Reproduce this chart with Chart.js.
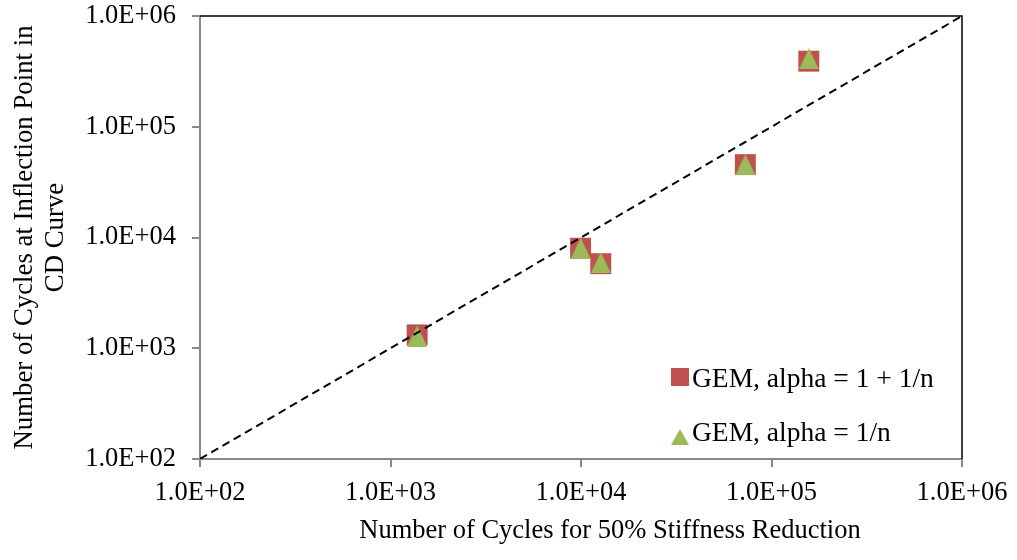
<!DOCTYPE html>
<html>
<head>
<meta charset="utf-8">
<title>Cycles at inflection point vs. cycles for 50% stiffness reduction</title>
<script src="https://cdn.jsdelivr.net/npm/chart.js@4/dist/chart.umd.min.js"></script>
<style>
  html, body { margin: 0; padding: 0; background: #ffffff; }
  #wrap { width: 1017px; height: 560px; }
</style>
</head>
<body>
<div id="wrap"><canvas id="chart" width="1017" height="560"></canvas></div>
<script>
// ---- data ----
const seriesNames = ['GEM, alpha = 1 + 1/n', 'GEM, alpha = 1/n'];
const stiffnessCycles = [1380, 9950, 12700, 72900, 157000];      // N for 50% stiffness reduction
const inflectionAlphaPlus = [1320, 8000, 5800, 45500, 391000];   // alpha = 1 + 1/n
const inflectionAlphaInv = [1290, 8000, 5940, 45500, 411000];    // alpha = 1/n
const equalityLine = [100, 1000000];                              // N = N reference
const tickValues = [1e2, 1e3, 1e4, 1e5, 1e6];
const xTitle = 'Number of Cycles for 50% Stiffness Reduction';
const yTitle = ['Number of Cycles at Inflection Point in', 'CD Curve'];

const FONT = "'Times New Roman', 'Liberation Serif', serif";
const RED = '#C0504D';
const GREEN = '#9BBB59';
const AXIS_GREY = '#898989';

// 1000 -> "1.0E+03"
function sciLabel(v) {
  const [m, e] = Number(v).toExponential(1).split('e');
  const exp = parseInt(e, 10);
  return m + 'E' + (exp < 0 ? '-' : '+') + String(Math.abs(exp)).padStart(2, '0');
}

function toPoints(xs, ys) {
  return xs.map((x, i) => ({ x: x, y: ys[i] }));
}

// Triangle marker whose bounding box is centred on the data point
function triangleMarker(w, h, color) {
  const c = document.createElement('canvas');
  c.width = w;
  c.height = h;
  const g = c.getContext('2d');
  g.fillStyle = color;
  g.beginPath();
  g.moveTo(w / 2, 0);
  g.lineTo(w, h);
  g.lineTo(0, h);
  g.closePath();
  g.fill();
  return c;
}

// Black frame on the top and right sides of the plot area
const plotFrame = {
  id: 'plotFrame',
  beforeDatasetsDraw(chart) {
    const { ctx, chartArea: a } = chart;
    ctx.save();
    ctx.strokeStyle = '#000';
    ctx.lineWidth = 1.5;
    ctx.beginPath();
    ctx.moveTo(a.left, a.top);
    ctx.lineTo(a.right, a.top);
    ctx.lineTo(a.right, a.bottom);
    ctx.stroke();
    ctx.restore();
  }
};

// Horizontal axis caption
const xCaption = {
  id: 'xCaption',
  afterDraw(chart) {
    const { ctx } = chart;
    ctx.save();
    ctx.font = '26.5px ' + FONT;
    ctx.fillStyle = '#000';
    ctx.textAlign = 'center';
    ctx.textBaseline = 'alphabetic';
    ctx.fillText(xTitle, 610, 538);
    ctx.restore();
  }
};

// Legend inside the plot, lower right
const innerLegend = {
  id: 'innerLegend',
  afterDraw(chart) {
    const { ctx } = chart;
    const rows = [
      { ds: chart.data.datasets[1], baseline: 387, cy: 377 },
      { ds: chart.data.datasets[2], baseline: 441, cy: 437 }
    ];
    const mx = 680, tx = 692;
    ctx.save();
    rows.forEach(r => {
      ctx.fillStyle = r.ds.backgroundColor;
      ctx.beginPath();
      if (r.ds.pointStyle === 'rect') {
        ctx.rect(mx - 9, r.cy - 9, 18, 18);
      } else {
        ctx.moveTo(mx, r.cy - 8);
        ctx.lineTo(mx + 9, r.cy + 8);
        ctx.lineTo(mx - 9, r.cy + 8);
        ctx.closePath();
      }
      ctx.fill();
      ctx.font = '27.5px ' + FONT;
      ctx.fillStyle = '#000';
      ctx.textAlign = 'left';
      ctx.textBaseline = 'alphabetic';
      ctx.fillText(r.ds.label, tx, r.baseline);
    });
    ctx.restore();
  }
};

const axisCommon = {
  type: 'logarithmic',
  min: 1e2,
  max: 1e6,
  afterBuildTicks(scale) {
    scale.ticks = tickValues.map(v => ({ value: v }));
  },
  grid: {
    drawOnChartArea: false,
    drawTicks: true,
    tickLength: 8,
    color: AXIS_GREY,
    lineWidth: 2
  },
  border: { display: true, color: AXIS_GREY, width: 2 }
};

new Chart(document.getElementById('chart'), {
  type: 'scatter',
  data: {
    datasets: [
      {
        label: 'N = N',
        type: 'line',
        data: toPoints(equalityLine, equalityLine),
        borderColor: '#000',
        borderWidth: 2,
        borderDash: [8, 5],
        pointRadius: 0,
        fill: false,
        order: 0
      },
      {
        label: seriesNames[0],
        data: toPoints(stiffnessCycles, inflectionAlphaPlus),
        pointStyle: 'rect',
        pointRadius: 14.8,
        backgroundColor: RED,
        borderColor: RED,
        borderWidth: 0,
        order: 2
      },
      {
        label: seriesNames[1],
        data: toPoints(stiffnessCycles, inflectionAlphaInv),
        pointStyle: triangleMarker(20, 21, GREEN),
        pointRadius: 11,
        backgroundColor: GREEN,
        borderColor: GREEN,
        borderWidth: 0,
        order: 1
      }
    ]
  },
  options: {
    responsive: false,
    animation: false,
    devicePixelRatio: 1,
    layout: { padding: { left: 0, right: 55, top: 16, bottom: 0 } },
    plugins: {
      legend: { display: false },
      tooltip: { enabled: false }
    },
    scales: {
      x: Object.assign({}, axisCommon, {
        position: 'bottom',
        afterFit(scale) {
          scale.height = 101;
          scale.paddingLeft = 0;
          scale.paddingRight = 0;
        },
        ticks: {
          callback: sciLabel,
          font: { family: FONT, size: 26.5 },
          color: '#000',
          padding: 10,
          maxRotation: 0,
          autoSkip: false
        }
      }),
      y: Object.assign({}, axisCommon, {
        position: 'left',
        afterFit(scale) {
          scale.width = 200;
          scale.paddingTop = 0;
          scale.paddingBottom = 0;
        },
        ticks: {
          callback: sciLabel,
          font: { family: FONT, size: 26.5 },
          color: '#000',
          padding: 16,
          autoSkip: false
        },
        title: {
          display: true,
          text: yTitle,
          font: { family: FONT, size: 26.8, lineHeight: 1.17 },
          color: '#000',
          padding: { top: 9, bottom: 0 }
        }
      })
    }
  },
  plugins: [plotFrame, xCaption, innerLegend]
});
</script>
</body>
</html>
